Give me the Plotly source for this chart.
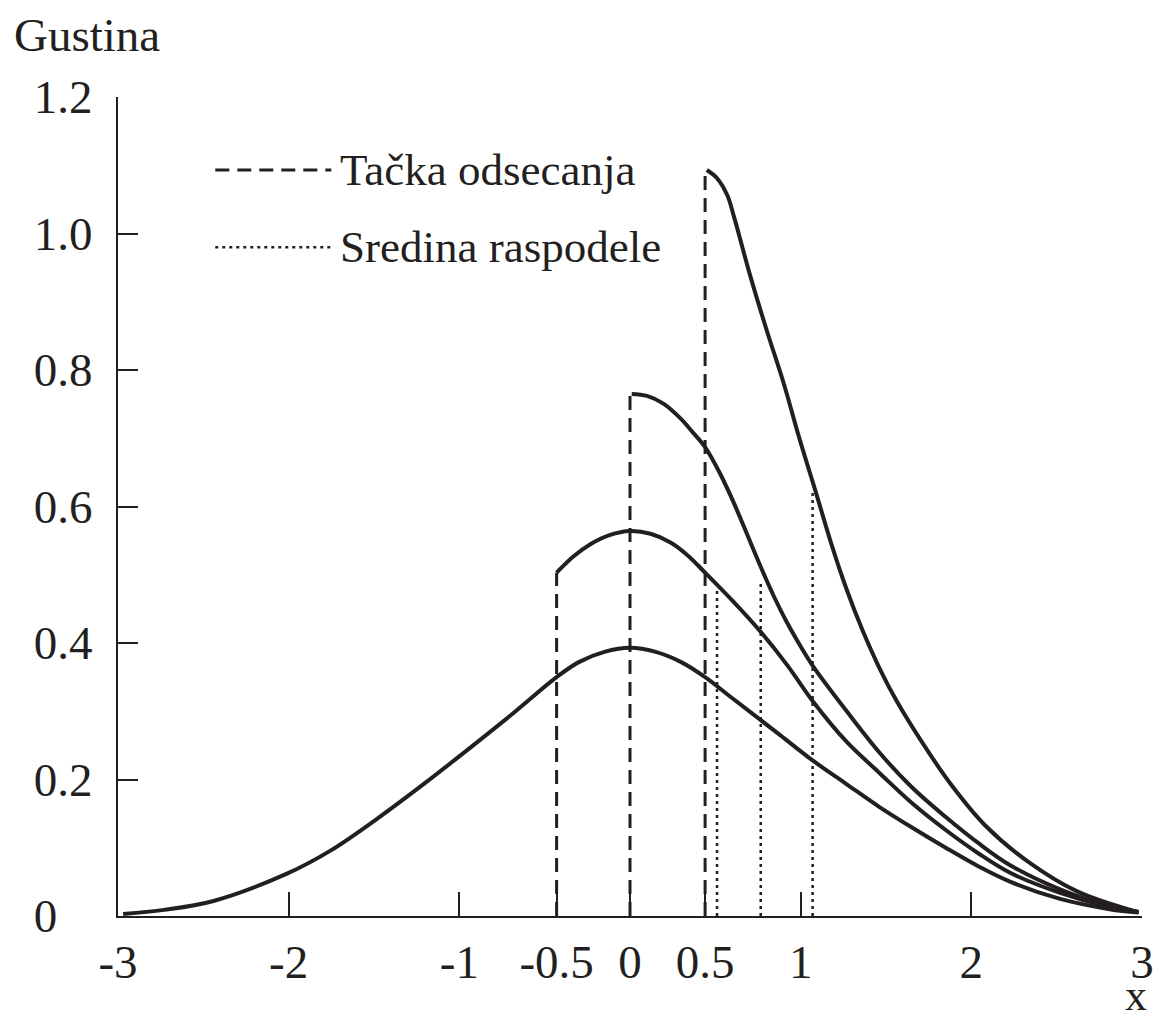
import plotly.graph_objects as go

# ---- data ----
# standard normal density (untruncated)
x_norm = [-2.97, -2.73, -2.44, -2.01, -1.76, -1.49, -1.20, -0.98, -0.69, -0.43, -0.30, -0.15, 0.0,
          0.15, 0.30, 0.44, 0.60, 0.88, 1.07, 1.27, 1.46, 1.65, 1.85, 2.04, 2.23, 2.52, 2.81, 2.98]
y_norm = [0.003, 0.009, 0.022, 0.062, 0.095, 0.141, 0.195, 0.238, 0.296, 0.350, 0.372, 0.387, 0.393,
          0.387, 0.372, 0.350, 0.319, 0.265, 0.228, 0.193, 0.160, 0.130, 0.100, 0.073, 0.050, 0.025, 0.010, 0.005]

# truncated at -0.5
x_t1 = [-0.43, -0.33, -0.23, -0.12, 0.0, 0.12, 0.24, 0.34, 0.44, 0.60, 0.76, 0.92, 1.07,
        1.27, 1.46, 1.65, 1.85, 2.04, 2.23, 2.52, 2.80, 2.98]
y_t1 = [0.503, 0.527, 0.545, 0.558, 0.564, 0.560, 0.547, 0.528, 0.503, 0.462, 0.418, 0.368, 0.315,
        0.255, 0.210, 0.166, 0.126, 0.092, 0.063, 0.034, 0.014, 0.006]

# truncated at 0
x_t2 = [0.01, 0.10, 0.20, 0.30, 0.37, 0.44, 0.52, 0.60, 0.68, 0.76, 0.84, 0.92, 1.00, 1.07,
        1.27, 1.46, 1.65, 1.85, 2.04, 2.23, 2.52, 2.80, 2.98]
y_t2 = [0.765, 0.762, 0.750, 0.728, 0.708, 0.687, 0.652, 0.610, 0.563, 0.515, 0.470, 0.430, 0.395, 0.367,
        0.300, 0.240, 0.189, 0.145, 0.107, 0.074, 0.039, 0.015, 0.006]

# truncated at 0.5
x_t3 = [0.45, 0.51, 0.57, 0.61, 0.70, 0.80, 0.90, 0.99, 1.09, 1.18, 1.27, 1.36,
        1.46, 1.56, 1.71, 1.88, 2.08, 2.33, 2.62, 2.97]
y_t3 = [1.093, 1.081, 1.056, 1.024, 0.942, 0.859, 0.781, 0.702, 0.620, 0.545, 0.478, 0.420,
        0.364, 0.316, 0.255, 0.193, 0.133, 0.080, 0.036, 0.006]

# cut-off points (dashed) and means of the truncated distributions (dotted)
cut_x = [-0.43, 0.0, 0.44]
cut_top = [0.503, 0.765, 1.093]
mean_x = [0.51, 0.766, 1.07]
mean_top = [0.482, 0.492, 0.620]

tick_vals = [-3, -2, -1, -0.43, 0, 0.44, 1, 2, 3]
tick_text = ["-3", "-2", "-1", "-0.5", "0", "0.5", "1", "2", "3"]
ytick_vals = [0, 0.2, 0.4, 0.6, 0.8, 1.0, 1.2]
ytick_text = ["0\u00a0\u00a0\u00a0", "0.2", "0.4", "0.6", "0.8", "1.0", "1.2"]

legend_labels = ["Tačka odsecanja", "Sredina raspodele"]

INK = "#231f20"
FONT = "Liberation Serif, Times New Roman, serif"
DASH = "14px,8px"
DOT = "3px,4px"

fig = go.Figure()

for cx, ct in zip(cut_x, cut_top):
    fig.add_trace(go.Scatter(x=[cx, cx], y=[0, ct], mode="lines",
                             line=dict(color=INK, width=3, dash=DASH),
                             showlegend=False, hoverinfo="skip"))
for mx, mt in zip(mean_x, mean_top):
    fig.add_trace(go.Scatter(x=[mx, mx], y=[0, mt], mode="lines",
                             line=dict(color=INK, width=2.5, dash=DOT),
                             showlegend=False, hoverinfo="skip"))

for xs, ys in [(x_norm, y_norm), (x_t1, y_t1), (x_t2, y_t2), (x_t3, y_t3)]:
    fig.add_trace(go.Scatter(x=xs, y=ys, mode="lines",
                             line=dict(color=INK, width=4, shape="spline", smoothing=1.0),
                             showlegend=False))

# legend samples
fig.add_shape(type="line", xref="x", yref="y", x0=-2.43, x1=-1.75, y0=1.093, y1=1.093,
              line=dict(color=INK, width=3, dash=DASH))
fig.add_shape(type="line", xref="x", yref="y", x0=-2.43, x1=-1.75, y0=0.980, y1=0.980,
              line=dict(color=INK, width=2.5, dash=DOT))
fig.add_annotation(x=-1.71, y=1.093, xref="x", yref="y", text=legend_labels[0], showarrow=False,
                   xanchor="left", yanchor="middle", font=dict(family=FONT, size=45, color=INK))
fig.add_annotation(x=-1.71, y=0.980, xref="x", yref="y", text=legend_labels[1], showarrow=False,
                   xanchor="left", yanchor="middle", font=dict(family=FONT, size=45, color=INK))

# axis titles
fig.add_annotation(x=-0.1035, y=1.0757, xref="paper", yref="paper", text="Gustina", showarrow=False,
                   xanchor="left", yanchor="middle", font=dict(family=FONT, size=47, color=INK))
fig.add_annotation(x=0.994, y=-0.1282, xref="paper", yref="paper", text="x", showarrow=False,
                   xanchor="center", yanchor="bottom", font=dict(family=FONT, size=44, color=INK),
                   borderpad=0)

fig.update_layout(
    width=1159, height=1023,
    margin=dict(l=118, r=17, t=97, b=107, autoexpand=False),
    paper_bgcolor="white", plot_bgcolor="white",
    showlegend=False,
    font=dict(family=FONT, size=47, color=INK),
)
fig.update_xaxes(range=[-3, 3], showgrid=False, zeroline=False, showline=True, automargin=False,
                 linecolor=INK, linewidth=2, ticks="inside", ticklen=24, tickwidth=2,
                 tickcolor=INK, tickvals=tick_vals, ticktext=tick_text,
                 tickfont=dict(family=FONT, size=47, color=INK), ticklabelstandoff=4)
fig.update_yaxes(range=[0, 1.2], showgrid=False, zeroline=False, showline=True, automargin=False,
                 linecolor=INK, linewidth=2, ticks="inside", ticklen=20, tickwidth=2,
                 tickcolor=INK, tickvals=ytick_vals, ticktext=ytick_text,
                 tickfont=dict(family=FONT, size=47, color=INK), ticklabelstandoff=14)

fig.write_html("out.html", config={"displayModeBar": False},
               post_script="document.body.style.margin='0';document.body.style.overflow='hidden';")
